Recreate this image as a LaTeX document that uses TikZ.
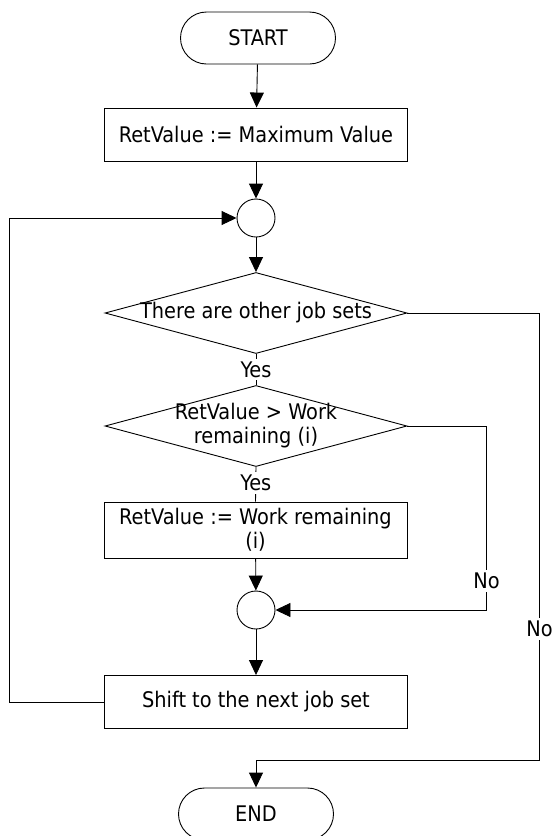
\documentclass[tikz,border=0pt]{standalone}
\usepackage{fontspec}
\setmainfont{DejaVu Sans Condensed}
\usetikzlibrary{shapes.geometric,arrows.meta}
\begin{document}
\begin{tikzpicture}[x=1pt,y=-1pt,
  font=\fontsize{21.5}{24}\selectfont,
  line width=0.9pt,
  terminal/.style={draw, rectangle, rounded corners=26pt,
    minimum width=155pt, minimum height=52pt, inner sep=0pt},
  process/.style={draw, rectangle, minimum width=303pt, minimum height=53pt,
    inner sep=0pt, align=center},
  joint/.style={draw, circle, minimum size=38pt, inner sep=0pt},
  decision/.style={draw, diamond, minimum width=302pt, minimum height=81pt,
    inner sep=0pt, aspect=3.7},
  arr/.style={-{Triangle[length=15pt,width=14pt]}},
  lbl/.style={fill=white, inner sep=3pt}
]
\useasboundingbox (0,0) rectangle (552,836);

% nodes
\node[terminal] (start) at (258,38) {START};
\node[process] (init) at (256,134.5) {RetValue := Maximum Value};
\node[joint] (c1) at (256,218) {};
\node[decision, label={center:There are other job sets}] (d1) at (256,313) {};
\node[decision, label={[align=center]center:RetValue > Work\\remaining (i)}] (d2) at (256,426) {};
\node[process, minimum height=56pt] (upd) at (255.5,530) {RetValue := Work remaining\\(i)};
\node[joint] (c2) at (256,610) {};
\node[process] (shift) at (256,702) {Shift to the next job set};
\node[terminal] (end) at (256,814) {END};

% main flow
\draw[arr] (start) -- (init);
\draw[arr] (init) -- (c1);
\draw[arr] (c1) -- (d1);
\draw (d1.south) -- node[lbl] {Yes} (d2.north);
\draw (d2.south) -- node[lbl, pos=0.45] {Yes} (upd.north);
\draw[arr] (upd) -- (c2);
\draw[arr] (c2) -- (shift);

% loop back to the first joint
\draw[arr] (shift.west) -- ++(-95,0) |- (c1.west);

% inner "No" branch
\draw[arr] (d2.east) -- ++(79,0) -- node[lbl, pos=0.84] {No} ++(0,184) -- (c2.east);

% outer "No" branch
\draw[arr] (d1.east) -- ++(132,0) -- node[lbl, pos=0.707] {No} ++(0,447) -| (end.north);
\end{tikzpicture}
\end{document}
